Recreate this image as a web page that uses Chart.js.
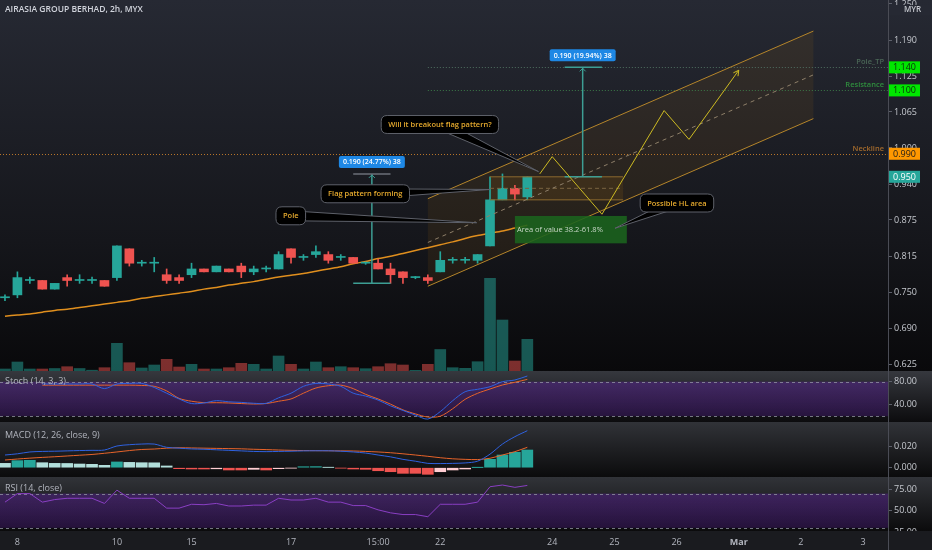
<!DOCTYPE html>
<html><head><meta charset="utf-8">
<script src="https://cdn.jsdelivr.net/npm/chart.js@4.4.1/dist/chart.umd.min.js"></script>
<style>
html,body{margin:0;padding:0;background:#000;}
#wrap{position:relative;width:932px;height:550px;overflow:hidden;}
.pane{position:absolute;left:0;width:932px;}
.cv{position:absolute;left:0;width:932px;}
</style></head><body>
<div id="wrap">
 <div class="pane" style="top:0;height:371px;background:linear-gradient(#262933,#15161b 65%,#09090b)"></div>
 <div class="pane" style="top:371px;height:51px;background:linear-gradient(#36383e,#0c0c0e)"></div>
 <div class="pane" style="top:422px;height:55px;background:linear-gradient(#313338,#0b0b0c)"></div>
 <div class="pane" style="top:477px;height:54px;background:linear-gradient(#313338,#0b0b0c)"></div>
 <div class="pane" style="top:531px;height:19px;background:#1a1b1f"></div>
 <div class="cv" style="top:0;height:371px"><canvas id="cMain"></canvas></div>
 <div class="cv" style="top:372px;height:50px"><canvas id="cStoch"></canvas></div>
 <div class="cv" style="top:423px;height:54px"><canvas id="cMacd"></canvas></div>
 <div class="cv" style="top:478px;height:53px"><canvas id="cRsi"></canvas></div>
 <div class="cv" style="top:531px;height:19px"><canvas id="cAxis"></canvas></div>
 <div style="position:absolute;left:888px;top:0;width:1px;height:550px;background:#4a4c55;z-index:5"></div>
</div>
<script>
// ---------------- DATA ----------------
const open  = [.740,.745,.770,.770,.755,.775,.770,.770,.770,.775, .825,.800,.800,.780,.775,.780,.790,.785,.790,.795, .785,.790,.790,.825,.810,.815,.815,.810,.810,.800, .800,.790,.785,.775,.775,.785,.805,.805,.805,.830, .910,.930,.915];
const high  = [.745,.785,.776,.770,.765,.780,.780,.776,.770,.830, .825,.805,.810,.790,.780,.800,.790,.795,.790,.800, .795,.795,.820,.825,.815,.830,.820,.815,.810,.802, .807,.800,.785,.777,.780,.820,.810,.810,.815,.950, .955,.935,.950];
const low   = [.735,.740,.765,.755,.755,.760,.765,.765,.760,.770, .795,.795,.785,.765,.765,.775,.785,.785,.785,.775, .780,.785,.790,.800,.805,.810,.800,.805,.800,.798, .790,.765,.765,.773,.765,.785,.800,.800,.800,.830, .910,.910,.910];
const close = [.740,.775,.770,.755,.765,.770,.770,.770,.760,.830, .800,.800,.800,.770,.770,.790,.785,.795,.785,.785, .790,.790,.815,.810,.810,.820,.805,.810,.800,.800, .790,.780,.775,.775,.770,.805,.805,.805,.815,.910, .930,.920,.950];
const volume = [2,9,2,2,2.5,4.3,2.5,0.8,3.3,27.7, 8.3,3,6,11.7,4,6.7,2,2,3.3,7.7, 6.7,2,15,6.7,2,9,3.3,4.3,3.3,2.3, 4.3,7.3,6,0.7,6.7,21.5,3.3,2.7,9.3,92.7, 51,10,31.7];
const ema = [0.708,0.710,0.712,0.715,0.718,0.720,0.723,0.726,0.729,0.732, 0.735,0.739,0.742,0.745,0.748,0.751,0.755,0.758,0.762,0.765, 0.768,0.772,0.776,0.779,0.782,0.786,0.790,0.794,0.799,0.803, 0.808,0.812,0.817,0.822,0.827,0.832,0.837,0.843,0.848,0.852, 0.856,0.861,0.866];
const stochK = [null,null,null,76,76,76,76,76,68,76, 77,77,70,60,50,42,43,47,45,44, 42.5,42.4,52,60,72,77,76,72,60,55, 48,38,30,22,15,28,47,62.6,66.8,71.3, 80,83,89.9];
const stochD = [null,null,null,74,74,74,74,74,74,74, 74,73.5,72,64,51,46,43.5,43.5,43,42, 41.2,42,46,50,60,69,73,74,68,58, 50,41,31,24,18.5,20,33,49.4,59.8,67.3, 74.3,79,84];
const macdLine = [0.0117,0.0128,0.0145,0.0150,0.0152,0.0155,0.0158,0.0160,0.0163,0.0200, 0.0212,0.0218,0.0218,0.0188,0.0180,0.0173,0.0170,0.0165,0.0160,0.0155, 0.0150,0.0148,0.0150,0.0152,0.0155,0.0156,0.0156,0.0152,0.0145,0.0135, 0.0117,0.0100,0.0077,0.0060,0.0040,0.0038,0.0040,0.0044,0.0060,0.0125, 0.0218,0.0286,0.0341];
const signalLine = [0.0071,0.0080,0.0088,0.0095,0.0101,0.0108,0.0115,0.0122,0.0133,0.0145, 0.0158,0.0168,0.0172,0.0180,0.0184,0.0182,0.0180,0.0178,0.0176,0.0174, 0.0170,0.0167,0.0163,0.0160,0.0158,0.0157,0.0156,0.0155,0.0154,0.0150, 0.0145,0.0138,0.0128,0.0117,0.0105,0.0092,0.0082,0.0077,0.0075,0.0087, 0.0117,0.0148,0.0188];
const macdHist = [0.0040,0.0065,0.0068,0.0046,0.0040,0.0039,0.0034,0.0031,0.0022,0.0053, 0.0049,0.0046,0.0045,0.0016,-0.0009,-0.0012,-0.0012,-0.0010,-0.0021,-0.0021, -0.0015,-0.0021,-0.0009,-0.0003,0.0009,0.0010,0.0002,-0.0003,-0.0012,-0.0015, -0.0028,-0.0037,-0.0052,-0.0052,-0.0061,-0.0037,-0.0021,-0.0012,0.0001,0.0077, 0.0117,0.0142,0.0163];
const rsi = [60,70,70,60,63,64.5,64.5,64.5,58.5,74, 64.5,64.5,64.5,53,53,57.5,57,58.5,55.5,55.5, 56.5,56.5,64.5,62.5,62.5,64.5,60,60,56,56, 51,47.5,45.5,45.5,43,57.5,57.5,57.5,60,78, 80,77.3,79.5];

const tickIdx = [1, 9, 15, 23, 30, 35, 44, 49, 54, 59, 64, 69];
const tickLabels = ['8','10','15','17','15:00','22','24','25','26','Mar','2','3'];
const priceTicks = [0.625,0.6875,0.75,0.8125,0.875,0.9375,1.0,1.0625,1.125,1.1875,1.25];
const stochTicks = [40, 80];
const macdTicks = [0, 0.02];
const rsiTicks = [25, 50, 75];

// drawings (data space: bar index, price)
const levels = [
  {name:'Pole_TP', price:1.140, from:34, line:'#4f6f60', text:'#4a6656', tag:'#00e600', tagText:'#0b2e0b'},
  {name:'Resistance', price:1.100, from:34, line:'#3c7a48', text:'#2f8f3e', tag:'#00e600', tagText:'#0b2e0b'},
  {name:'Neckline', price:0.990, from:-0.4, line:'#b8752a', text:'#a36a2c', tag:'#ff9800', tagText:'#1a1a1a'}
];
const lastPrice = 0.950;
const channel = {x0:34, x1:65, upper:[0.912, 1.203], lower:[0.760, 1.051]};
const flag = {x0:39, x1:49.7, top:0.950, bottom:0.910};
const valueBox = {x0:41, x1:50, top:0.882, bottom:0.8345, text:'Area of value 38.2-61.8%'};
const measures = [
  {x:29.5, from:0.765, to:0.955, x0:28, x1:31, label:'0.190 (24.77%) 38', topColor:'#6b6f78'},
  {x:46.45, from:0.950, to:1.140, x0:45, x1:48, label:'0.190 (19.94%) 38', topColor:'#3d9e94'}
];
const pathIdx = [43, 44, 48, 53, 55, 59];
const pathPrice = [0.955, 0.985, 0.885, 1.065, 1.015, 1.135];
const callouts = [
  {text:'Will it breakout flag pattern?', cx:34.97, cy:1.0408, tx:42.9, ty:0.959},
  {text:'Flag pattern forming', cx:28.97, cy:0.9205, tx:39.0, ty:0.928},
  {text:'Pole', cx:22.98, cy:0.8823, tx:37.93, ty:0.8703},
  {text:'Possible HL area', cx:54.03, cy:0.9045, tx:49.05, ty:0.8606}
];

// ---------------- HELPERS ----------------
const FONT = '"Open Sans", "DejaVu Sans", sans-serif';
const XMIN = -0.4, XMAX = 71;
const UP = '#26a69a', DN = '#ef5350';
const idx = open.map((_, i) => i);
const candleColor = idx.map(i => close[i] >= open[i] ? UP : DN);
const volColor = idx.map(i => close[i] >= open[i] ? 'rgba(38,166,154,0.5)' : 'rgba(239,83,80,0.5)');
const histColor = macdHist.map((v, i) => {
  if (i === 0) return '#b2dfdb';
  const p = macdHist[i-1];
  if (v >= 0) return v >= p ? '#26a69a' : '#b2dfdb';
  return v > p ? '#ffcdd2' : '#ef5350';
});
const pts = arr => arr.map((v, i) => ({x: i, y: v}));

function xHidden() {
  return {type:'linear', min:XMIN, max:XMAX, display:false, offset:false, grid:{offset:false}};
}
function yRight(min, max, ticks, fmt) {
  return {
    position:'right', min, max,
    afterFit(s){ s.width = 44; s.paddingTop = 0; s.paddingBottom = 0; },
    afterBuildTicks(s){ s.ticks = ticks.map(v => ({value:v})); },
    ticks:{color:'#c5c8ce', font:{size:9, family:FONT}, padding:2, autoSkip:false, callback:fmt},
    grid:{drawOnChartArea:false, drawTicks:true, tickLength:4, color:'#5d606b'},
    border:{display:false}
  };
}
const base = {
  responsive:true, maintainAspectRatio:false, animation:false,
  layout:{padding:0},
  events:[]
};
function roundRect(ctx, x, y, w, h, r) {
  ctx.beginPath();
  ctx.moveTo(x+r, y); ctx.lineTo(x+w-r, y); ctx.quadraticCurveTo(x+w, y, x+w, y+r);
  ctx.lineTo(x+w, y+h-r); ctx.quadraticCurveTo(x+w, y+h, x+w-r, y+h);
  ctx.lineTo(x+r, y+h); ctx.quadraticCurveTo(x, y+h, x, y+h-r);
  ctx.lineTo(x, y+r); ctx.quadraticCurveTo(x, y, x+r, y); ctx.closePath();
}

// ---------------- MAIN CHART ----------------
const mainDraw = {
  id:'mainDraw',
  beforeDatasetsDraw(chart) {
    const ctx = chart.ctx, X = v => chart.scales.x.getPixelForValue(v), Y = v => chart.scales.y.getPixelForValue(v);
    ctx.save();
    ctx.beginPath();
    ctx.moveTo(X(channel.x0), Y(channel.upper[0])); ctx.lineTo(X(channel.x1), Y(channel.upper[1]));
    ctx.lineTo(X(channel.x1), Y(channel.lower[1])); ctx.lineTo(X(channel.x0), Y(channel.lower[0]));
    ctx.closePath(); ctx.fillStyle = 'rgba(255,152,0,0.07)'; ctx.fill();
    const fx0 = X(flag.x0), fx1 = X(flag.x1), ft = Y(flag.top), fb = Y(flag.bottom);
    ctx.fillStyle = 'rgba(255,152,0,0.09)'; ctx.fillRect(fx0, ft, fx1-fx0, fb-ft);
    ctx.restore();
  },
  afterDatasetsDraw(chart) {
    const ctx = chart.ctx, a = chart.chartArea;
    const X = v => chart.scales.x.getPixelForValue(v), Y = v => chart.scales.y.getPixelForValue(v);
    ctx.save();
    levels.forEach(l => {
      const y = Math.round(Y(l.price)) + 0.5;
      ctx.strokeStyle = l.line; ctx.lineWidth = 1; ctx.setLineDash([1,2]);
      ctx.beginPath(); ctx.moveTo(Math.max(a.left, X(l.from)), y); ctx.lineTo(a.right, y); ctx.stroke();
      ctx.setLineDash([]);
      ctx.font = `600 7.5px ${FONT}`; ctx.fillStyle = l.text; ctx.textAlign = 'right'; ctx.textBaseline = 'bottom';
      ctx.fillText(l.name, a.right - 4, y - 2);
    });
    const fx0 = X(flag.x0), fx1 = X(flag.x1);
    ctx.strokeStyle = '#8c6a2e'; ctx.lineWidth = 1;
    [flag.top, flag.bottom].forEach(p => { const y = Y(p); ctx.beginPath(); ctx.moveTo(fx0, y); ctx.lineTo(fx1, y); ctx.stroke(); });
    ctx.setLineDash([4,3]); ctx.strokeStyle = '#7a6440';
    const fm = Y((flag.top + flag.bottom)/2); ctx.beginPath(); ctx.moveTo(fx0, fm); ctx.lineTo(fx1, fm); ctx.stroke();
    ctx.setLineDash([]);
    ctx.strokeStyle = '#b5852a'; ctx.lineWidth = 1;
    [channel.upper, channel.lower].forEach(l => { ctx.beginPath(); ctx.moveTo(X(channel.x0), Y(l[0])); ctx.lineTo(X(channel.x1), Y(l[1])); ctx.stroke(); });
    ctx.setLineDash([4,4]); ctx.strokeStyle = '#8f806a';
    ctx.beginPath(); ctx.moveTo(X(channel.x0), Y((channel.upper[0]+channel.lower[0])/2)); ctx.lineTo(X(channel.x1), Y((channel.upper[1]+channel.lower[1])/2)); ctx.stroke();
    ctx.setLineDash([]);
    measures.forEach(m => {
      const x = X(m.x), yb = Y(m.from), yt = Y(m.to), x0 = X(m.x0), x1 = X(m.x1);
      ctx.strokeStyle = '#3d9e94'; ctx.lineWidth = 1.5;
      ctx.beginPath(); ctx.moveTo(x, yb); ctx.lineTo(x, yt); ctx.stroke();
      ctx.beginPath(); ctx.moveTo(x0, yb); ctx.lineTo(x1, yb); ctx.stroke();
      ctx.strokeStyle = m.topColor;
      ctx.beginPath(); ctx.moveTo(x0, yt); ctx.lineTo(x1, yt); ctx.stroke();
      ctx.strokeStyle = '#3d9e94'; ctx.lineWidth = 1;
      ctx.beginPath(); ctx.moveTo(x-3, yt+4); ctx.lineTo(x, yt+1); ctx.lineTo(x+3, yt+4); ctx.stroke();
      ctx.font = `600 7px ${FONT}`;
      const tw = ctx.measureText(m.label).width, w = tw + 8, h = 12;
      ctx.fillStyle = '#1e88e5'; roundRect(ctx, x - w/2, yt - 6 - h, w, h, 2); ctx.fill();
      ctx.fillStyle = '#ffffff'; ctx.textAlign = 'center'; ctx.textBaseline = 'middle';
      ctx.fillText(m.label, x, yt - 6 - h/2 + 0.5);
    });
    ctx.strokeStyle = '#cdbb22'; ctx.lineWidth = 1;
    ctx.beginPath();
    pathIdx.forEach((v, i) => { const px = X(v), py = Y(pathPrice[i]); if (i === 0) ctx.moveTo(px, py); else ctx.lineTo(px, py); });
    ctx.stroke();
    { const n = pathIdx.length, ex = X(pathIdx[n-1]), ey = Y(pathPrice[n-1]), sx = X(pathIdx[n-2]), sy = Y(pathPrice[n-2]);
      const ang = Math.atan2(ey - sy, ex - sx);
      ctx.beginPath();
      ctx.moveTo(ex - 6*Math.cos(ang - 0.5), ey - 6*Math.sin(ang - 0.5)); ctx.lineTo(ex, ey);
      ctx.lineTo(ex - 6*Math.cos(ang + 0.5), ey - 6*Math.sin(ang + 0.5)); ctx.stroke(); }
    { const x0 = X(valueBox.x0), x1 = X(valueBox.x1), yt = Y(valueBox.top), yb = Y(valueBox.bottom);
      ctx.fillStyle = 'rgba(27,100,30,0.88)'; ctx.fillRect(x0, yt, x1-x0, yb-yt);
      ctx.font = `7.5px ${FONT}`; ctx.fillStyle = '#c9d8c9'; ctx.textAlign = 'left'; ctx.textBaseline = 'middle';
      ctx.fillText(valueBox.text, x0 + 2, (yt+yb)/2); }
    callouts.forEach(c => {
      ctx.font = `600 7.5px ${FONT}`;
      const tw = ctx.measureText(c.text).width, w = tw + 14, h = 18;
      const cx = X(c.cx), cy = Y(c.cy), tx = X(c.tx), ty = Y(c.ty);
      const dx = tx - cx, dy = ty - cy, len = Math.hypot(dx, dy), nx = -dy/len*5, ny = dx/len*5;
      ctx.beginPath(); ctx.moveTo(cx+nx, cy+ny); ctx.lineTo(tx, ty); ctx.lineTo(cx-nx, cy-ny); ctx.closePath();
      ctx.fillStyle = '#000'; ctx.fill(); ctx.strokeStyle = '#5e616a'; ctx.lineWidth = 1; ctx.stroke();
      roundRect(ctx, cx - w/2, cy - h/2, w, h, 6); ctx.fillStyle = '#000'; ctx.fill(); ctx.stroke();
      ctx.fillStyle = '#e6aa2e'; ctx.textAlign = 'center'; ctx.textBaseline = 'middle';
      ctx.fillText(c.text, cx, cy + 0.5);
    });
    ctx.restore();
  },
  afterDraw(chart) {
    const ctx = chart.ctx, a = chart.chartArea, Y = v => chart.scales.y.getPixelForValue(v);
    ctx.save();
    const tags = levels.map(l => ({p:l.price, bg:l.tag, fg:l.tagText})).concat([{p:lastPrice, bg:'#26a69a', fg:'#ffffff'}]);
    tags.forEach(t => {
      const y = Y(t.p);
      ctx.fillStyle = t.bg; ctx.fillRect(a.right, y - 6, 32, 12);
      ctx.fillStyle = t.fg; ctx.font = `9px ${FONT}`; ctx.textAlign = 'left'; ctx.textBaseline = 'middle';
      ctx.fillText(t.p.toFixed(3), a.right + 5, y + 0.5);
    });
    ctx.fillStyle = '#262933'; ctx.fillRect(a.right + 2, 5, 42, 10);
    ctx.fillStyle = '#c5c8ce'; ctx.font = `600 8px ${FONT}`; ctx.textAlign = 'left'; ctx.textBaseline = 'middle';
    ctx.fillText('MYR', a.right + 16, 10);
    ctx.fillStyle = '#d1d4dc'; ctx.font = `600 8.5px ${FONT}`; ctx.textBaseline = 'middle';
    ctx.fillText('AIRASIA GROUP BERHAD, 2h, MYX', 5, 10);
    ctx.restore();
  }
};

new Chart(document.getElementById('cMain'), {
  type:'bar',
  data:{datasets:[
    {type:'bar', data: idx.map(i => ({x:i, y:[open[i], close[i]]})), backgroundColor:candleColor, barThickness:9, minBarLength:1, grouped:false, yAxisID:'y'},
    {type:'bar', data: idx.map(i => ({x:i, y:[low[i], high[i]]})), backgroundColor:candleColor, barThickness:1, grouped:false, yAxisID:'y'},
    {type:'line', data: pts(ema), borderColor:'#e08f1e', borderWidth:1.5, pointRadius:0, tension:0.3, yAxisID:'y'},
    {type:'bar', data: pts(volume), backgroundColor:volColor, barThickness:11, grouped:false, yAxisID:'yv'}
  ]},
  options:Object.assign({}, base, {
    plugins:{legend:{display:false}, tooltip:{enabled:false}},
    scales:{
      x:xHidden(),
      y:yRight(0.625 - 7/576, 0.625 + 364/576, priceTicks, v => (Math.round(v/0.005 + 1e-6)*0.005).toFixed(3)),
      yv:{display:false, min:0, max:371}
    }
  }),
  plugins:[mainDraw]
});

// ---------------- INDICATOR PANES ----------------
function paneDraw(label, labelY, band) {
  return {
    id:'paneDraw',
    beforeDatasetsDraw(chart) {
      if (!band) return;
      const ctx = chart.ctx, a = chart.chartArea, y = chart.scales.y;
      const t = y.getPixelForValue(band[0]), b = y.getPixelForValue(band[1]);
      ctx.save();
      const g = ctx.createLinearGradient(0, t, 0, b);
      g.addColorStop(0, 'rgba(105,30,185,0.36)'); g.addColorStop(1, 'rgba(105,30,185,0.26)');
      ctx.fillStyle = g; ctx.fillRect(a.left, t, a.right - a.left, b - t);
      ctx.setLineDash([3,3]); ctx.strokeStyle = 'rgba(150,153,165,0.75)'; ctx.lineWidth = 1;
      [t, b].forEach(v => { const yy = Math.round(v) + 0.5; ctx.beginPath(); ctx.moveTo(a.left, yy); ctx.lineTo(a.right, yy); ctx.stroke(); });
      ctx.restore();
    },
    afterDraw(chart) {
      const ctx = chart.ctx;
      ctx.save(); ctx.fillStyle = '#b2b5be'; ctx.font = `9px ${FONT}`; ctx.textAlign = 'left'; ctx.textBaseline = 'middle';
      ctx.fillText(label, 5, labelY); ctx.restore();
    }
  };
}
const noPlug = {legend:{display:false}, tooltip:{enabled:false}};

new Chart(document.getElementById('cStoch'), {
  type:'line',
  data:{datasets:[
    {data:pts(stochK), borderColor:'#2f62e0', borderWidth:1, pointRadius:0, tension:0.3},
    {data:pts(stochD), borderColor:'#e8642a', borderWidth:1, pointRadius:0, tension:0.3}
  ]},
  options:Object.assign({}, base, {plugins:noPlug, scales:{
    x:xHidden(),
    y:yRight(80 - (50 - 9.7)/0.575, 80 + 9.7/0.575, stochTicks, v => v.toFixed(2))
  }}),
  plugins:[paneDraw('Stoch (14, 3, 3)', 9, [80, 20])]
});

new Chart(document.getElementById('cMacd'), {
  type:'bar',
  data:{datasets:[
    {type:'line', data:pts(macdLine), borderColor:'#2f62e0', borderWidth:1, pointRadius:0, tension:0.3},
    {type:'line', data:pts(signalLine), borderColor:'#e8642a', borderWidth:1, pointRadius:0, tension:0.3},
    {type:'bar', data:pts(macdHist), backgroundColor:histColor, barThickness:11, grouped:false}
  ]},
  options:Object.assign({}, base, {plugins:noPlug, scales:{
    x:xHidden(),
    y:yRight(-(54 - 44.7)/1085, 0.02 + 23/1085, macdTicks, v => v.toFixed(3))
  }}),
  plugins:[paneDraw('MACD (12, 26, close, 9)', 12, null)]
});

new Chart(document.getElementById('cRsi'), {
  type:'line',
  data:{datasets:[
    {data:pts(rsi), borderColor:'#8a3fc4', borderWidth:1, pointRadius:0, tension:0}
  ]},
  options:Object.assign({}, base, {plugins:noPlug, scales:{
    x:xHidden(),
    y:yRight(50 - (53 - 32.7)/0.856, 75 + 11.3/0.856, rsiTicks, v => v.toFixed(2))
  }}),
  plugins:[paneDraw('RSI (14, close)', 10, [70, 30])]
});

// ---------------- TIME AXIS ----------------
new Chart(document.getElementById('cAxis'), {
  type:'line',
  data:{datasets:[{data:[], borderWidth:0, pointRadius:0}]},
  options:Object.assign({}, base, {plugins:noPlug, scales:{
    x:{type:'linear', min:XMIN, max:XMAX, offset:false, position:'bottom',
      afterFit(s){ s.height = 18; s.paddingLeft = 0; s.paddingRight = 0; },
      afterBuildTicks(s){ s.ticks = tickIdx.map(v => ({value:v})); },
      ticks:{autoSkip:false, maxRotation:0, padding:5, color:'#b2b5be',
        callback:(v) => { const k = tickIdx.indexOf(v); return k >= 0 ? tickLabels[k] : ''; },
        font:(c) => ({size:9, family:FONT, weight:(c.tick && c.tick.label === 'Mar') ? 'bold' : 'normal'})},
      grid:{display:false, drawTicks:false}, border:{display:false}},
    y:{position:'right', display:true, min:0, max:1,
      afterFit(s){ s.width = 44; s.paddingTop = 0; s.paddingBottom = 0; },
      ticks:{display:false}, grid:{display:false}, border:{display:false}}
  }})
});
</script>
</body></html>
